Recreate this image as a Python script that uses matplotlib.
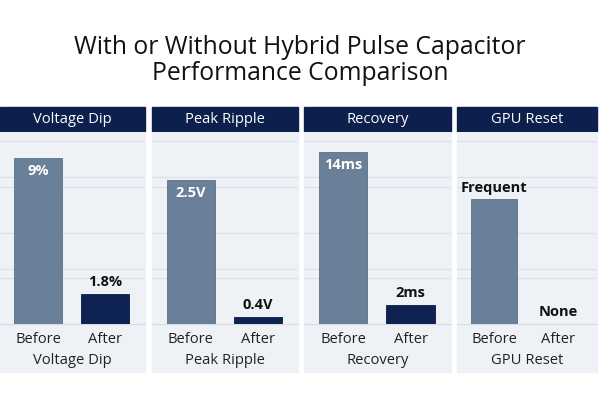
import matplotlib
matplotlib.use("Agg")
import matplotlib.pyplot as plt
from matplotlib.patches import Rectangle

# metrics shown in the four panels
metrics = ["Voltage Dip", "Peak Ripple", "Recovery", "GPU Reset"]
conditions = ["Before", "After"]
before_labels = ["9%", "2.5V", "14ms", "Frequent"]
after_labels = ["1.8%", "0.4V", "2ms", "None"]
# bar heights as drawn (percent of panel height)
before_heights = [86.5, 75.0, 89.6, 65.0]
after_heights = [15.6, 3.6, 9.9, 0.0]

C_BEFORE, C_AFTER, C_HEAD, C_BG = "#6a8099", "#0e2352", "#0d1f4d", "#eef1f6"
FONT = ["Open Sans", "DejaVu Sans"]
plt.rcParams["font.family"] = FONT

W, H = 600, 400
fig = plt.figure(figsize=(6, 4), dpi=100)

fig.text(0.5, 1 - 47 / H, "With or Without Hybrid Pulse Capacitor", ha="center", va="center",
         fontsize=17.8, color="#111111")
fig.text(0.5, 1 - 73 / H, "Performance Comparison", ha="center", va="center",
         fontsize=17.8, color="#111111")

panels = [(0, 145), (152, 298), (304, 451), (457, 597)]
top, base, bottom, head_top = 132, 324, 372, 107

for i, (x0, x1) in enumerate(panels):
    w = x1 - x0
    fig.patches.append(Rectangle((x0 / W, 1 - bottom / H), w / W, (bottom - top) / H,
                                 transform=fig.transFigure, color=C_BG, zorder=-2))
    fig.patches.append(Rectangle((x0 / W, 1 - (top - 1) / H), w / W, (top - 1 - head_top) / H,
                                 transform=fig.transFigure, color=C_HEAD, zorder=-2))
    fig.text((x0 + w / 2) / W, 1 - 119.5 / H, metrics[i], ha="center", va="center",
             color="white", fontsize=10.6)

    ax = fig.add_axes([x0 / W, 1 - base / H, w / W, (base - top) / H])
    ax.set_facecolor(C_BG)
    bw = 0.72
    ax.bar(0, before_heights[i], bw, color=C_BEFORE, edgecolor="#5b6f86", lw=0.6, zorder=3)
    ax.bar(1, after_heights[i], bw, color=C_AFTER, edgecolor="#0a1a3d", lw=0.6, zorder=3)
    ax.set_xlim(-0.576, 1.598)
    ax.set_ylim(0, 100)
    ax.set_yticks([24, 28.5, 47.5, 71.5, 76.5, 95.5])
    ax.yaxis.grid(True, color="#dde2ea", lw=0.9)
    ax.set_axisbelow(True)
    ax.tick_params(axis="y", left=False, labelleft=False)
    ax.set_xticks([0, 1], conditions)
    ax.tick_params(axis="x", length=0, pad=5.5, labelsize=10.6, labelcolor="#222222")
    ax.set_xlabel(metrics[i], fontsize=10.6, labelpad=4.5, color="#222222")
    for s in ["top", "left", "right"]:
        ax.spines[s].set_visible(False)
    ax.spines["bottom"].set_color("#d5dae2")

    # value labels
    if i == 3:
        ax.text(0, before_heights[i] + 2, before_labels[i], ha="center", va="bottom",
                fontsize=10.5, fontweight="bold", color="#111111")
    else:
        ax.text(0, before_heights[i] - 3, before_labels[i], ha="center", va="top",
                fontsize=10.5, fontweight="bold", color="white")
    ax.text(1, after_heights[i] + 2.5, after_labels[i], ha="center", va="bottom",
            fontsize=10.5, fontweight="bold", color="#111111")

fig.savefig("out.png", dpi=100, facecolor="white")
